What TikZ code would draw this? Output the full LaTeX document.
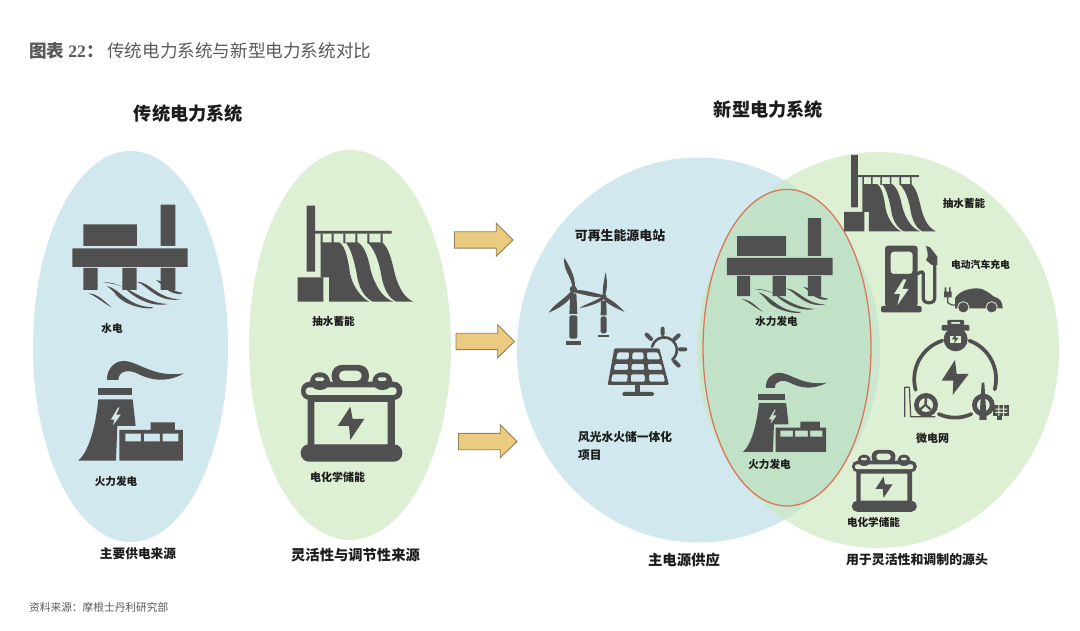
\documentclass[tikz,border=0pt]{standalone}
\usepackage{fontspec}
\setmainfont{Liberation Serif}
\newfontfamily\cjk{Noto Sans CJK SC}
\definecolor{gridBlue}{HTML}{D1E8EE}
\definecolor{gridGreen}{HTML}{DDF0D3}
\definecolor{gridBoth}{HTML}{CBE7CD}
\definecolor{gridInner}{HTML}{C1E2C6}
\definecolor{gridRed}{HTML}{D9775C}
\definecolor{gridIcon}{HTML}{505050}
\definecolor{gridInk}{HTML}{1C1C1C}
\definecolor{gridGrey}{HTML}{5A5A5A}
\definecolor{gridGold}{HTML}{EBCB80}
\definecolor{gridEdge}{HTML}{8F8058}

\begin{document}
\begin{tikzpicture}[x=1pt,y=-1pt,line cap=round,line join=round]
\useasboundingbox (0,0) rectangle (1080,631);
\path[fill=white] (0,0) rectangle (1080,631);
\tikzset{
  lbl/.style={text=gridInk,font=\cjk\bfseries\fontsize{#1}{#1}\selectfont,inner sep=0pt},
  lbl/.default=10.6,
  icon/.style={fill=gridIcon,draw=none},
  pics/bigarrow/.style={code={
    \path[fill=gridGold,draw=gridEdge,line width=0.9pt,line join=miter] (0,-8.2) -- (41.7,-8.2) -- (41.7,-16.7) -- (58.4,0) -- (41.7,16.3) -- (41.7,8.2) -- (0,8.2) -- cycle;
  }},
  pics/platform/.style={code={
    \path[icon] (130,223) rectangle (291,288) (362,164) rectangle (406,288) (97,295) rectangle (443,351);
    \path[icon] (130,354) rectangle (173,420) (247,354) rectangle (290,420) (362,354) rectangle (406,420);
    \path[icon] (146,430) .. controls (175,432) and (190,452) .. (215,472) .. controls (188,458) and (170,440) .. cycle;
    \path[icon] (200,408) .. controls (240,415) and (260,470) .. (340,472) .. controls (335,482) and (250,470) .. (225,430) .. controls (215,418) and (205,412) .. cycle;
    \path[icon] (187,397) .. controls (255,392) and (300,460) .. (386,462) .. controls (340,472) and (290,450) .. (255,415) .. controls (235,402) and (210,400) .. cycle;
    \path[icon] (290,395) .. controls (330,395) and (350,445) .. (420,448) .. controls (370,456) and (340,430) .. (315,410) .. controls (305,402) and (298,398) .. cycle;
    \path[icon] (348,390) .. controls (375,392) and (395,428) .. (428,428) .. controls (428,435) and (400,434) .. (380,418) .. controls (368,406) and (358,398) .. cycle;
  }},
  pics/plant/.style={code={
    \path[icon] (113,113) rectangle (215,135);
    \path[icon,even odd rule] (115,148) -- (218,148) -- (227,228) -- (172,228) -- (168,332) -- (55,332) .. controls (90,300) and (108,220) .. cycle
      (174,172) -- (152,209) -- (163,209) -- (158,228) -- (183,194) -- (169,194) -- (179,172) -- cycle;
    \path[icon,even odd rule] (178,240) -- (272,240) -- (272,217) -- (345,217) -- (345,240) -- (369,240) -- (369,332) -- (178,332) -- cycle
      (196,251) rectangle (243,274) (252,251) rectangle (300,274) (308,251) rectangle (355,274);
    \path[icon] (141,90) .. controls (140,55) and (165,33) .. (190,33) .. controls (235,33) and (280,85) .. (372,70) .. controls (320,100) and (270,90) .. (235,72) .. controls (210,58) and (175,60) .. (175,90) -- cycle;
  }},
  pics/dam/.style={code={
    \path[icon] (80,47) rectangle (105,245) (105,123) rectangle (335,131) (53,262) rectangle (130,335);
    \path[icon] (122,131) rectangle (128,160) (155,131) rectangle (161,160) (190,131) rectangle (196,160) (226,131) rectangle (232,160) (262,131) rectangle (268,160) (302,131) rectangle (308,160);
    \path[icon] (122,157) -- (178,157) .. controls (198,170) and (205,215) .. (210,250) .. controls (218,290) and (245,325) .. (268,335) -- (147,335) -- (147,262) -- (122,262) -- cycle;
    \path[icon] (197,157) -- (234,157) .. controls (255,170) and (265,205) .. (272,240) .. controls (285,290) and (310,325) .. (340,335) -- (278,335) .. controls (250,320) and (235,290) .. (230,250) .. controls (222,210) and (212,175) .. cycle;
    \path[icon] (262,157) -- (306,157) .. controls (325,170) and (335,210) .. (343,245) .. controls (355,295) and (375,325) .. (400,335) -- (348,335) .. controls (320,320) and (308,285) .. (302,245) .. controls (295,210) and (282,175) .. cycle;
  }},
  pics/battery/.style={code={
    \begin{scope}[scale=#1]
    \path[icon,even odd rule,rounded corners={26pt*#1}] (48,95) rectangle (352,150);
    \path[fill=gridBack,even odd rule,rounded corners={10pt*#1}] (62,112) rectangle (335,135);
    \path[icon,even odd rule] (68,148) rectangle (330,290) (88,156) rectangle (308,285);
    \path[icon,rounded corners={25pt*#1}] (47,283) rectangle (352,335);
    \path[icon,rounded corners={30pt*#1}] (140,110) -- (140,45) -- (252,45) -- (252,110) -- cycle;
    \path[fill=gridBack,rounded corners={15pt*#1}] (162,93) -- (162,62) -- (230,62) -- (230,93) -- cycle;
    \path[icon,rounded corners={28pt*#1}] (75,120) -- (75,67) -- (135,67) -- (135,120) -- cycle;
    \path[icon,rounded corners={28pt*#1}] (262,120) -- (262,67) -- (322,67) -- (322,120) -- cycle;
    \path[fill=gridBack,rounded corners={5pt*#1}] (90,93) -- (90,82) -- (118,82) -- (118,93) -- cycle (278,93) -- (278,82) -- (305,82) -- (305,93) -- cycle;
    \path[icon] (196,170) -- (158,228) -- (192,228) -- (196,270) -- (238,207) -- (203,207) -- cycle;
    \end{scope}
  }},
}
\colorlet{gridBack}{gridGreen}
% ellipses
\path[fill=gridBlue] (130.5,346.5) ellipse [x radius=97.5,y radius=195.5];
\path[fill=gridGreen] (350,345) ellipse [x radius=101,y radius=195];
\path[fill=gridBlue] (698.5,350) ellipse [x radius=181.5,y radius=192.5];
\path[fill=gridGreen] (878,350) ellipse [x radius=181,y radius=198];
\begin{scope}
\clip (698.5,350) ellipse [x radius=181.5,y radius=192.5];
\path[fill=gridBoth] (878,350) ellipse [x radius=181,y radius=198];
\end{scope}
\path[fill=gridInner,draw=gridRed,line width=1.3pt] (787,347.7) ellipse [x radius=84,y radius=158.3];
% heads
\node[anchor=west,inner sep=0pt,text=gridGrey,font=\cjk\bfseries\fontsize{17.6}{17.6}\selectfont] (chartno) at (29,51) {图表 \textrm{\bfseries 22}：};
\node[anchor=west,inner sep=0pt,text=gridGrey,font=\cjk\fontsize{17.6}{17.6}\selectfont] (charttitle) at (107,51) {传统电力系统与新型电力系统对比};
\node[lbl=18.2] (oldhead) at (188.5,114) {传统电力系统};
\node[lbl=18.2] (newhead) at (768.5,110) {新型电力系统};
% left side
\pic[scale=1/3] at (40,150) {platform};
\pic[scale=1/3] at (60,350) {plant};
\pic[scale=1/3] at (280,190) {dam};
\pic at (285,350) {battery=0.3333};
\node[lbl] (hydroa) at (112,328) {水电};
\node[lbl] (thermala) at (116,481) {火力发电};
\node[lbl] (pumpa) at (333.5,321) {抽水蓄能};
\node[lbl=11] (storea) at (337.5,477) {电化学储能};
\node[lbl=12.7] (mainsrc) at (138,554) {主要供电来源};
\node[lbl=14.3] (flexsrc) at (355.5,555) {灵活性与调节性来源};
% arrows
\pic at (454.5,240) {bigarrow};
\pic at (456,341.5) {bigarrow};
\pic at (458.5,441.5) {bigarrow};
% right side, renewables
\begin{scope}[shift={(530,240)},scale=1/3]
\path[icon] (130,148) circle (11) (222,170) circle (8);
\path[icon] (121,160) -- (139,160) -- (142,222) -- (118,222) -- cycle;
\path[icon,rounded corners=2pt] (118,226) -- (142,226) -- (142,296) -- (118,296) -- cycle;
\path[icon] (108,303) rectangle (152,315);
\path[icon] (127,140) .. controls (122,105) and (98,90) .. (103,53) .. controls (118,80) and (135,105) .. (135,140) -- cycle;
\path[icon] (122,155) .. controls (100,180) and (75,190) .. (56,218) .. controls (85,205) and (115,190) .. (130,160) -- cycle;
\path[icon] (138,150) .. controls (165,150) and (190,158) .. (222,166) .. controls (222,180) and (160,165) .. (135,157) -- cycle;
\path[icon] (213,182) -- (229,182) -- (230,226) -- (212,226) -- cycle;
\path[icon,rounded corners=1.6pt] (212,229) -- (230,229) -- (230,280) -- (212,280) -- cycle;
\path[icon] (205,284) rectangle (237,290);
\path[icon] (218,162) .. controls (218,140) and (222,120) .. (227,97) .. controls (232,120) and (232,145) .. (226,165) -- cycle;
\path[icon] (215,170) .. controls (195,185) and (170,190) .. (149,204) .. controls (175,200) and (205,190) .. (220,178) -- cycle;
\path[icon] (225,170) .. controls (245,180) and (265,195) .. (284,216) .. controls (260,205) and (235,195) .. (222,178) -- cycle;
\path[icon,even odd rule,rounded corners=1.2pt] (253,325) -- (388,325) -- (417,435) -- (233,435) -- cycle
  (263,337) -- (298,337) -- (296,358) -- (258,358) -- cycle (308,337) -- (340,337) -- (341,358) -- (306,358) -- cycle (350,337) -- (384,337) -- (391,358) -- (352,358) -- cycle
  (255,372) -- (295,372) -- (294,390) -- (251,390) -- cycle (305,372) -- (342,372) -- (343,390) -- (304,390) -- cycle (353,372) -- (393,372) -- (398,390) -- (355,390) -- cycle
  (247,403) -- (293,403) -- (292,425) -- (243,425) -- cycle (303,403) -- (344,403) -- (345,425) -- (302,425) -- cycle (356,403) -- (401,403) -- (405,425) -- (358,425) -- cycle;
\path[icon] (315,435) rectangle (331,458);
\path[icon,rounded corners=2pt] (277,456) rectangle (372,468);
\draw[draw=gridIcon,line width=2.6pt] (366,320) arc [start angle=-165,end angle=50,radius=38];
\draw[draw=gridIcon,line width=4pt] (398,266) -- (398,282) (446,286) -- (433,298) (466,328) -- (450,328) (446,377) -- (433,364) (350,284) -- (363,297);
\end{scope}
\node[lbl=12.9] (plantnew) at (620,236) {可再生能源电站};
\node[lbl=11.75,anchor=west] (basea) at (578,437) {风光水火储一体化};
\node[lbl=11.75,anchor=west] (baseb) at (578,455) {项目};
\node[lbl=14.4] (mainsupply) at (684,560) {主电源供应};
% overlap
\pic[scale=0.305] at (697.4,168) {platform};
\pic[scale=0.265] at (728.4,364) {plant};
\node[lbl] (hydrob) at (776.5,321) {水力发电};
\node[lbl] (thermalb) at (769.5,464) {火力发电};
% right lobe
\pic[scale=0.265] at (830,142.5) {dam};
\pic at (841.8,440.4) {battery=0.213};
\begin{scope}[shift={(840,150)},scale=1/3]
\path[icon,even odd rule,rounded corners=3pt] (135,470) -- (135,287) -- (233,287) -- (233,470) -- cycle
  (152,305) -- (218,305) -- (218,372) -- (152,372) -- cycle;
\path[fill=gridGreen] (190,388) -- (162,432) -- (180,432) -- (172,466) -- (206,417) -- (187,417) -- (199,388) -- cycle;
\path[icon,rounded corners=2pt] (123,468) rectangle (245,487);
\draw[draw=gridIcon,line width=3.2pt,rounded corners=4pt] (233,372) -- (250,360) -- (250,458) -- (284,458) -- (284,335);
\path[icon] (258,288) -- (270,292) -- (292,320) -- (292,345) -- (275,345) -- (258,330) .. controls (268,320) and (262,305) .. cycle;
\path[icon] (345,475) -- (345,445) .. controls (355,425) and (385,415) .. (410,415) .. controls (435,415) and (450,432) .. (462,440) .. controls (480,445) and (488,455) .. (488,475) -- cycle;
\path[fill=gridIcon,draw=gridGreen,line width=0.8pt] (370,472) circle (17) (455,472) circle (17);
\path[icon] (314,412) rectangle (319,425) (327,412) rectangle (332,425) (312,425) rectangle (335,442);
\draw[draw=gridIcon,line width=1.2pt] (323,442) -- (323,458) -- (335,465) -- (345,465);
\end{scope}
\node[lbl] (pumpb) at (964,203) {抽水蓄能};
\node[lbl=9.8] (evcharge) at (980.5,265) {电动汽车充电};
% microgrid
\begin{scope}[shift={(890,310)},scale=1/3]
\draw[draw=gridIcon,line width=3.7pt] (157,92) arc [start angle=-108,end angle=-195,radius=122];
\draw[draw=gridIcon,line width=3.7pt] (238,92) arc [start angle=-70,end angle=15,radius=122];
\draw[draw=gridIcon,line width=3.7pt] (146,312) arc [start angle=115,end angle=65,radius=116];
\path[icon] (195,150) -- (155,212) -- (190,212) -- (188,255) -- (236,192) -- (200,192) -- cycle;
\path[icon,rounded corners=1pt] (155,45) rectangle (238,62);
\path[icon,even odd rule,rounded corners=1pt] (172,45) -- (172,30) -- (222,30) -- (222,45) -- cycle (182,42) -- (182,36) -- (212,36) -- (212,42) -- cycle;
\path[icon] (197,88) circle (36);
\path[fill=gridGreen] (180,98) rectangle (214,78);
\path[icon] (196,72) -- (186,88) -- (195,88) -- (192,100) -- (206,84) -- (198,84) -- cycle;
\path[icon] (108,285) circle (36);
\path[fill=gridGreen] (108,285) circle (21);
\path[icon] (104,262) -- (112,262) -- (110,283) -- (124,296) -- (120,302) -- (106,288) -- (92,302) -- (88,296) -- (103,283) -- cycle;
\draw[draw=gridIcon,line width=1.2pt] (44,320) -- (44,232) -- (58,232) -- (62,320) -- (135,320);
\path[icon] (280,285) circle (34);
\path[fill=gridGreen] (280,285) circle (19);
\path[icon] (275,218) -- (283,218) -- (290,330) -- (268,330) -- cycle;
\path[icon] (310,285) rectangle (358,318);
\path[icon] (322,318) rectangle (336,330);
\path[fill=gridGreen] (316,296) rectangle (352,299) (316,306) rectangle (352,309) (325,285) rectangle (328,318) (339,285) rectangle (342,318);
\end{scope}
\node[lbl=11] (microgrid) at (932.5,438) {微电网};
\node[lbl] (storeb) at (873.5,522) {电化学储能};
\node[lbl=12.9] (flexsupply) at (917,560) {用于灵活性和调制的源头};
\node[anchor=west,inner sep=0pt,text=gridGrey,font=\cjk\fontsize{10.7}{10.7}\selectfont] (source) at (29,607) {资料来源：摩根士丹利研究部};
\end{tikzpicture}
\end{document}
